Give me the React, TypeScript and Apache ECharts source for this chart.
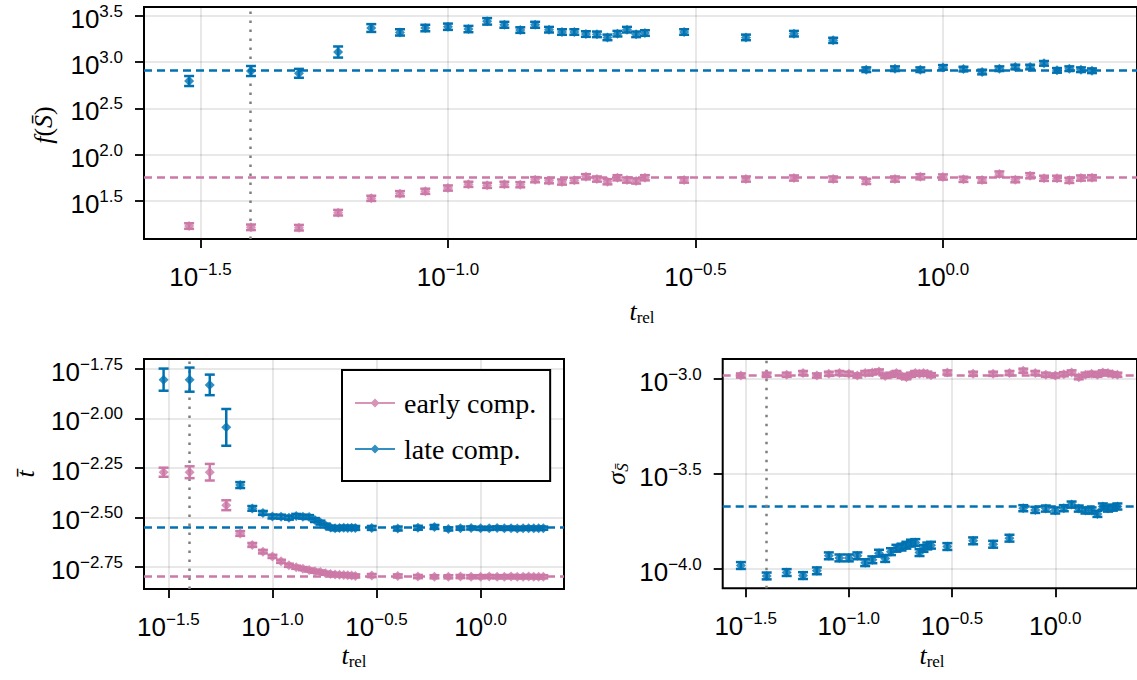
import React, { useEffect, useRef } from "react";
import * as echarts from "echarts";

// relative time t_rel (shared by all panels)
const tRel = [
  0.03, 0.04, 0.05, 0.06, 0.07, 0.08, 0.09, 0.1, 0.11, 0.12,
  0.13, 0.14, 0.15, 0.16, 0.17, 0.18, 0.19, 0.2, 0.21, 0.22,
  0.23, 0.24, 0.25, 0.3, 0.4, 0.5, 0.6,
  0.7, 0.8, 0.9, 1.0, 1.1, 1.2, 1.3, 1.4, 1.5, 1.6, 1.7, 1.8, 1.9, 2.0,
];

// top panel: log10 f(S̄)
const fEarlyLog10 = [
  1.23, 1.216, 1.212, 1.374, 1.529, 1.579, 1.605, 1.64, 1.68, 1.669,
  1.68, 1.676, 1.73, 1.719, 1.705, 1.723, 1.762, 1.737, 1.708, 1.751,
  1.726, 1.716, 1.751, 1.726, 1.737, 1.748, 1.737,
  1.712, 1.737, 1.762, 1.759, 1.734, 1.726, 1.791, 1.73, 1.773, 1.745, 1.745, 1.723, 1.748, 1.751,
];
const fEarlyErr = [
  0.03, 0.03, 0.03, 0.03, 0.028, 0.028, 0.028, 0.028, 0.028, 0.028,
  0.028, 0.028, 0.028, 0.028, 0.028, 0.028, 0.028, 0.028, 0.028, 0.028,
  0.028, 0.028, 0.028, 0.028, 0.028, 0.028, 0.028,
  0.028, 0.028, 0.028, 0.028, 0.028, 0.028, 0.028, 0.028, 0.028, 0.028, 0.028, 0.028, 0.028, 0.028,
];
const fLateLog10 = [
  2.795, 2.903, 2.878, 3.108, 3.367, 3.32, 3.367, 3.381, 3.356, 3.439,
  3.402, 3.345, 3.402, 3.349, 3.324, 3.324, 3.302, 3.299, 3.266, 3.306,
  3.349, 3.299, 3.313, 3.324, 3.266, 3.306, 3.234,
  2.917, 2.928, 2.917, 2.942, 2.924, 2.892, 2.928, 2.946, 2.946, 2.986, 2.91, 2.928, 2.917, 2.906,
];
const fLateErr = [
  0.054, 0.054, 0.048, 0.06, 0.042, 0.034, 0.035, 0.034, 0.034, 0.035,
  0.032, 0.03, 0.032, 0.03, 0.03, 0.03, 0.03, 0.03, 0.03, 0.03,
  0.03, 0.03, 0.03, 0.03, 0.03, 0.03, 0.028,
  0.025, 0.025, 0.025, 0.025, 0.025, 0.025, 0.025, 0.025, 0.025, 0.025, 0.025, 0.025, 0.025, 0.025,
];

// bottom-left panel: log10 t̄
const tbarEarlyLog10 = [
  -2.272, -2.272, -2.272, -2.439, -2.582, -2.64, -2.674, -2.698, -2.723, -2.743,
  -2.753, -2.76, -2.767, -2.773, -2.777, -2.783, -2.787, -2.79, -2.791, -2.792,
  -2.794, -2.795, -2.797, -2.795, -2.797, -2.8, -2.801,
  -2.801, -2.8, -2.801, -2.801, -2.8, -2.801, -2.801, -2.8, -2.801, -2.801, -2.8, -2.801, -2.801, -2.801,
];
const tbarEarlyErr = [
  0.023, 0.03, 0.042, 0.025, 0.012, 0.01, 0.009, 0.008, 0.008, 0.008,
  0.008, 0.008, 0.008, 0.008, 0.008, 0.008, 0.008, 0.008, 0.008, 0.008,
  0.008, 0.008, 0.008, 0.008, 0.008, 0.008, 0.008,
  0.008, 0.008, 0.008, 0.008, 0.008, 0.008, 0.008, 0.008, 0.008, 0.008, 0.008, 0.008, 0.008, 0.008,
];
const tbarLateLog10 = [
  -1.8035, -1.8035, -1.83, -2.045, -2.337, -2.455, -2.478, -2.496, -2.497, -2.502,
  -2.493, -2.497, -2.499, -2.514, -2.527, -2.542, -2.552, -2.556, -2.554, -2.553,
  -2.554, -2.553, -2.554, -2.554, -2.557, -2.553, -2.549,
  -2.559, -2.555, -2.554, -2.556, -2.556, -2.554, -2.556, -2.555, -2.557, -2.556, -2.555, -2.556, -2.556, -2.555,
];
const tbarLateErr = [
  0.056, 0.061, 0.052, 0.093, 0.015, 0.012, 0.01, 0.01, 0.01, 0.01,
  0.01, 0.01, 0.01, 0.01, 0.01, 0.01, 0.01, 0.01, 0.01, 0.01,
  0.01, 0.01, 0.01, 0.01, 0.01, 0.01, 0.01,
  0.008, 0.008, 0.008, 0.008, 0.008, 0.008, 0.008, 0.008, 0.008, 0.008, 0.008, 0.008, 0.008, 0.008,
];

// bottom-right panel: log10 σ_S̄
const sigmaEarlyLog10 = [
  -2.982, -2.978, -2.978, -2.969, -2.982, -2.973, -2.969, -2.973, -2.982, -2.969,
  -2.966, -2.961, -2.984, -2.978, -2.969, -2.984, -2.991, -2.978, -2.969, -2.973,
  -2.969, -2.973, -2.98, -2.966, -2.973, -2.973, -2.969,
  -2.957, -2.969, -2.978, -2.982, -2.975, -2.966, -2.991, -2.978, -2.973, -2.978, -2.966, -2.969, -2.975, -2.978,
];
const sigmaEarlyErr = [
  0.011, 0.011, 0.011, 0.011, 0.011, 0.011, 0.011, 0.011, 0.011, 0.011,
  0.011, 0.011, 0.011, 0.011, 0.011, 0.011, 0.011, 0.011, 0.011, 0.011,
  0.011, 0.011, 0.011, 0.011, 0.011, 0.011, 0.011,
  0.011, 0.011, 0.011, 0.011, 0.011, 0.011, 0.011, 0.011, 0.011, 0.011, 0.011, 0.011, 0.011, 0.011,
];
const sigmaLateLog10 = [
  -3.983, -4.038, -4.02, -4.036, -4.011, -3.932, -3.943, -3.943, -3.932, -3.968,
  -3.953, -3.918, -3.946, -3.91, -3.892, -3.886, -3.876, -3.865, -3.862, -3.915,
  -3.893, -3.88, -3.876, -3.883, -3.853, -3.871, -3.839,
  -3.681, -3.69, -3.683, -3.693, -3.681, -3.662, -3.683, -3.693, -3.693, -3.711, -3.672, -3.683, -3.678, -3.672,
];
const sigmaLateErr = [
  0.018, 0.018, 0.018, 0.018, 0.018, 0.018, 0.018, 0.018, 0.018, 0.018,
  0.018, 0.018, 0.018, 0.018, 0.018, 0.018, 0.018, 0.018, 0.018, 0.018,
  0.018, 0.018, 0.018, 0.018, 0.018, 0.018, 0.018,
  0.016, 0.016, 0.016, 0.016, 0.016, 0.016, 0.016, 0.016, 0.016, 0.016, 0.016, 0.016, 0.016, 0.016,
];

// reference (dashed) levels, log10
const fEarlyRef = 1.763;
const fLateRef = 2.906;
const tbarEarlyRef = -2.802;
const tbarLateRef = -2.554;
const sigmaEarlyRef = -2.983;
const sigmaLateRef = -3.674;
const tMarker = 0.04;

// tick positions (log10 exponents)
const xTicks = [-1.5, -1.0, -0.5, 0.0];
const fTicks = [1.5, 2.0, 2.5, 3.0, 3.5];
const tbarTicks = [-2.75, -2.5, -2.25, -2.0, -1.75];
const sigmaTicks = [-4.0, -3.5, -3.0];

const PINK = "#CC79A7";
const BLUE = "#0072B2";
const EARLY = "early comp.";
const LATE = "late comp.";

const SANS = "Liberation Sans";
const SERIF = "Liberation Serif";

const tickRich = {
  b: { fontFamily: SANS, fontSize: 26, lineHeight: 32, color: "#000" },
  s: { fontFamily: SANS, fontSize: 17, lineHeight: 12, verticalAlign: "top", color: "#000" },
};
const powLabel = (d: number) => (v: number) =>
  `{b|10}{s|${v.toFixed(d).replace("-", "\u2212")}}`;

const gridLine = { show: true, lineStyle: { color: "rgba(0,0,0,0.12)", width: 1.5 } };
const tickStyle = { color: "#000", width: 1.8 };

function xAxisOpt(gi: number, min: number, max: number) {
  return {
    type: "value",
    gridIndex: gi,
    min,
    max,
    axisLine: { show: false, onZero: false },
    axisTick: { show: true, inside: false, length: 9, lineStyle: tickStyle, customValues: xTicks },
    axisLabel: { customValues: xTicks, formatter: powLabel(1), rich: tickRich, margin: 22 },
    splitLine: gridLine,
  };
}
function yAxisOpt(gi: number, min: number, max: number, ticks: number[], d: number) {
  return {
    type: "value",
    gridIndex: gi,
    min,
    max,
    axisLine: { show: false, onZero: false },
    axisTick: { show: true, inside: false, length: 9, lineStyle: tickStyle, customValues: ticks },
    axisLabel: { customValues: ticks, formatter: powLabel(d), rich: tickRich, margin: 21, padding: [6, 0, 0, 0] },
    splitLine: gridLine,
  };
}

function pointSeries(name: string, gi: number, ys: number[], color: string) {
  return {
    type: "scatter",
    name,
    xAxisIndex: gi,
    yAxisIndex: gi,
    symbol: "diamond",
    symbolSize: 10,
    itemStyle: { color },
    z: 4,
    data: tRel.map((t, i) => [Math.log10(t), ys[i]]),
  };
}
function errSeries(name: string, gi: number, ys: number[], es: number[], color: string) {
  return {
    type: "custom",
    name: name + " err",
    xAxisIndex: gi,
    yAxisIndex: gi,
    z: 3,
    encode: { x: 0, y: 1 },
    data: tRel.map((t, i) => [Math.log10(t), ys[i], es[i]]),
    renderItem: (params: any, api: any) => {
      const x = api.value(0);
      const y = api.value(1);
      const e = api.value(2);
      const top = api.coord([x, y + e]);
      const bot = api.coord([x, y - e]);
      const w = 5;
      const st = { stroke: color, lineWidth: 2.5 };
      return {
        type: "group",
        children: [
          { type: "line", shape: { x1: top[0], y1: top[1], x2: bot[0], y2: bot[1] }, style: st },
          { type: "line", shape: { x1: top[0] - w, y1: top[1], x2: top[0] + w, y2: top[1] }, style: st },
          { type: "line", shape: { x1: bot[0] - w, y1: bot[1], x2: bot[0] + w, y2: bot[1] }, style: st },
        ],
      };
    },
  };
}
function refSeries(gi: number, early: number, late: number) {
  return {
    type: "line",
    name: "refs" + gi,
    xAxisIndex: gi,
    yAxisIndex: gi,
    data: [],
    z: 1,
    markLine: {
      silent: true,
      symbol: "none",
      z: 1,
      label: { show: false },
      data: [
        { yAxis: early, lineStyle: { color: PINK, width: 2.5, type: [8, 5] } },
        { yAxis: late, lineStyle: { color: BLUE, width: 2.5, type: [8, 5] } },
        { xAxis: Math.log10(tMarker), lineStyle: { color: "#808080", width: 2.5, type: [2.5, 6.5] } },
      ],
    },
  };
}

const legendIcon = "path://M0 3.5 H40 V5.5 H0 Z M20 0 L24.5 4.5 L20 9 L15.5 4.5 Z";

const titleRich = {
  i: { fontFamily: SERIF, fontStyle: "italic", fontSize: 26, lineHeight: 30, fill: "#000" },
  r: { fontFamily: SERIF, fontSize: 26, lineHeight: 30, fill: "#000" },
  sub: { fontFamily: SERIF, fontSize: 17, lineHeight: 14, verticalAlign: "bottom", fill: "#000" },
  subi: { fontFamily: SERIF, fontStyle: "italic", fontSize: 17, lineHeight: 14, verticalAlign: "bottom", fill: "#000" },
};
function title(x: number, y: number, text: string, rot = 0) {
  return {
    type: "text",
    x,
    y,
    rotation: rot,
    style: { text, rich: titleRich, align: "center", verticalAlign: "middle" },
  };
}

const gridBox = { show: true, borderColor: "#000", borderWidth: 2, backgroundColor: "transparent" };

export default function App() {
  const ref = useRef<HTMLDivElement>(null);
  useEffect(() => {
    if (!ref.current) return;
    const chart = echarts.init(ref.current, undefined, { renderer: "svg" });
    const option: any = {
      animation: false,
      backgroundColor: "#fff",
      grid: [
        { left: 144, top: 7, width: 997.6, height: 232, ...gridBox },
        { left: 144, top: 359, width: 420, height: 230, ...gridBox },
        { left: 722.7, top: 359, width: 420, height: 229.3, ...gridBox },
      ],
      xAxis: [xAxisOpt(0, -1.614, 0.392), xAxisOpt(1, -1.617, 0.4005), xAxisOpt(2, -1.611, 0.396)],
      yAxis: [
        yAxisOpt(0, 1.09, 3.594, fTicks, 1),
        yAxisOpt(1, -2.863, -1.699, tbarTicks, 2),
        yAxisOpt(2, -4.103, -2.895, sigmaTicks, 1),
      ],
      legend: {
        left: 342,
        top: 370,
        orient: "vertical",
        padding: [19, 14, 18, 13],
        itemGap: 18,
        itemWidth: 40,
        itemHeight: 9,
        borderColor: "#000",
        borderWidth: 2,
        borderRadius: 0,
        backgroundColor: "#fff",
        selectedMode: false,
        textStyle: { fontFamily: SERIF, fontSize: 28, lineHeight: 28, color: "#000", padding: [0, 0, 0, 4] },
        data: [
          { name: EARLY, icon: legendIcon },
          { name: LATE, icon: legendIcon },
        ],
      },
      graphic: [
        title(642, 311, "{i|t}{sub|rel}"),
        title(354, 655, "{i|t}{sub|rel}"),
        title(932, 655, "{i|t}{sub|rel}"),
        title(43, 125, "{i|f}{r|(}{i|S\u0304}{r|)}", Math.PI / 2),
        title(25, 474, "{i|t\u0304}", Math.PI / 2),
        title(616, 474, "{i|\u03c3}{subi|S\u0304}", Math.PI / 2),
      ],
      series: [
        refSeries(0, fEarlyRef, fLateRef),
        refSeries(1, tbarEarlyRef, tbarLateRef),
        refSeries(2, sigmaEarlyRef, sigmaLateRef),
        errSeries(EARLY, 0, fEarlyLog10, fEarlyErr, PINK),
        errSeries(LATE, 0, fLateLog10, fLateErr, BLUE),
        errSeries(EARLY, 1, tbarEarlyLog10, tbarEarlyErr, PINK),
        errSeries(LATE, 1, tbarLateLog10, tbarLateErr, BLUE),
        errSeries(EARLY, 2, sigmaEarlyLog10, sigmaEarlyErr, PINK),
        errSeries(LATE, 2, sigmaLateLog10, sigmaLateErr, BLUE),
        pointSeries(EARLY, 0, fEarlyLog10, PINK),
        pointSeries(LATE, 0, fLateLog10, BLUE),
        pointSeries(EARLY, 1, tbarEarlyLog10, PINK),
        pointSeries(LATE, 1, tbarLateLog10, BLUE),
        pointSeries(EARLY, 2, sigmaEarlyLog10, PINK),
        pointSeries(LATE, 2, sigmaLateLog10, BLUE),
      ],
    };
    chart.setOption(option);
    return () => chart.dispose();
  }, []);
  return (
    <div style={{ position: "fixed", left: 0, top: 0, width: 1137, height: 680, overflow: "hidden", background: "#fff" }}>
      <div ref={ref} style={{ width: 1137, height: 680 }} />
    </div>
  );
}
